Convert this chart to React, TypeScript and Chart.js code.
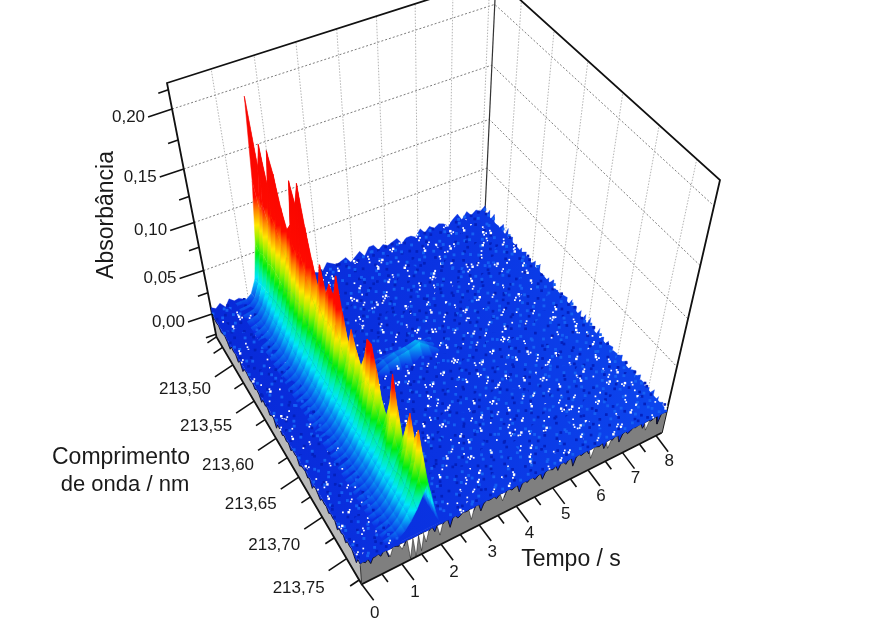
import React, { useEffect, useRef } from "react";
import { Chart, registerables } from "chart.js";

Chart.register(...registerables);

const timeTicks = [0, 1, 2, 3, 4, 5, 6, 7, 8];
const timeMinor = [0.5, 1.5, 2.5, 3.5, 4.5, 5.5, 6.5, 7.5];
const waveTicks = [213.5, 213.55, 213.6, 213.65, 213.7, 213.75];
const waveMinor = [213.46, 213.475, 213.525, 213.575, 213.625, 213.675, 213.725, 213.775];
const absTicks = [0, 0.05, 0.1, 0.15, 0.2];
const absMinor = [-0.025, 0.025, 0.075, 0.125, 0.175, 0.215];
const absLabels = ["0,00", "0,05", "0,10", "0,15", "0,20"];
const waveLabels = ["213,50", "213,55", "213,60", "213,65", "213,70", "213,75"];

const ridgeTimes = [0.65, 0.8, 0.95, 1.1, 1.25, 1.4, 1.55, 1.65, 1.75, 1.85, 1.95];
const ridgeProfileBack = [0, 0, 0, 0.03, 0.12, 0.34, 0.66, 1, 0.6, 0.22, 0];
const ridgeProfileMain = [0, 0.02, 0.05, 0.12, 0.24, 0.42, 0.7, 1, 0.6, 0.22, 0];
const ridgePeaks = [
  0.19, 0.135, 0.16, 0.13, 0.165, 0.15, 0.125, 0.11, 0.12, 0.165, 0.15, 0.173, 0.14, 0.115,
  0.095, 0.122, 0.1, 0.115, 0.11, 0.134, 0.105, 0.08, 0.1, 0.085, 0.075, 0.09, 0.114, 0.115,
  0.095, 0.07, 0.06, 0.08, 0.115, 0.085, 0.06, 0.08, 0.1, 0.08, 0.095, 0.075, 0.05,
];
const bumpTimes = [2.7, 3.0, 3.3, 3.6, 3.9, 4.15, 4.4];
const bumpRowStart = 15;
const bumpHeights = [
  [0, 0, 0, 0, 0, 0, 0],
  [0, 0.005, 0.008, 0.009, 0.012, 0.006, 0],
  [0, 0.006, 0.01, 0.012, 0.016, 0.008, 0],
  [0, 0, 0, 0, 0, 0, 0],
];
const notchTimes = [0.72, 1.02, 1.22, 1.36, 1.5, 1.62, 1.97, 2.78, 3.6, 6.02, 6.5, 7.6];
const notchDepths = [0.012, 0.01, 0.027, 0.028, 0.024, 0.016, 0.016, 0.016, 0.012, 0.014, 0.012, 0.013];

const frontEdge =
  "213162214118212315113271214216113119214312215118312214216113218213114217212316114119213215112317213118214312116213219112";
const leftEdge = "31214213612151721231412613152171241315121632141721351214121623151214712";

const noiseRows = [
  "748295630714862390571842296357048199263570441827364059182637",
  "295816634992015830749261158037426158830742961583370429615837",
  "613907782563149048256731907482856310748295563107482950631748",
  "480726155948072361593480762615934702761953480927615934802761",
  "957734062895113406289577134602895731460289573144068295713068",
  "326850741936658574193260507749326805741932660574993268057419",
  "871493725687149802568974930256871439625687043902568714393065",
  "504269918352426971835642697183504869781350426998135242697813",
  "192675384819067538401926153840192765384719276538401977653804",
  "638441972563804197956380419925638041927163804592756380411275",
  "725916443872591640387659164538725196403872599640387251764083",
  "049382715684938271967493827156949382475604338217560493861756",
  "916273598491627350149162735084916237508491623758849162375048",
  "283749161528374976152837497615283794761528379406152837940651",
  "570618934257861893425706889342570681934257068193925706819324",
  "314845297631480529763548052976314850297631485929763148542967",
  "869524751386952470138695249013869542761965954270138695427731",
  "402197863740219786354021978635402917863940291786354829178653",
  "751366824975136582497513608249751630824975163682497516398294",
  "138946957213894605721389460572138964957213896405721389640527",
  "694471382569407188256940713825694701382569470138656947013285",
  "207583916424758391642875839164207538916420753891642675389146",
  "845129637784512963478451296307845192630784519263978451926037",
  "561738949256173804925617380492561783049256178304925617830429",
  "973260481597326848159732604815973206481597320648159732964185",
  "026495713802649571380264957138626459713802645971380264597318",
  "389517268438951726943895172604389571260438957126043895712064",
  "714862895371406289537140628953714026895371402689837140268935",
  "652837174965283017496528301749652380174965238017496523801794",
  "190374685219737468521903746852190734685219073468521907346582",
  "437951296843795120684379512068437591206843759120684375912086",
  "806249137580624913758462491375806429137580642913758064291375",
  "528716936452871693045287169304528761930452876193045287619034",
  "261083475926108347592910834759261803475926180347592618034795",
  "943527718694352701869435270186943257018694325701869432570186",
  "075861349287586134920758613492075681349207568134920756813492",
  "682194657368219405736821940573682914057368291405736829140573",
  "319470825631947682563194708256319740825631974082563197408256",
  "756938291475603829147560382914756308291475630829147563082914",
  "104825976310482597631048259763104285976310428597631042859763",
  "597362184059736218405973621840597632184059763218405976321840",
];

const TMAX = 8.17;
const WMIN = 213.46;
const WSPAN = 0.32;
const ATOP = 0.22;
const AFLOOR = -0.0285;

type P = { x: number; y: number };
const zeroCorners = { L: [212, 314], F: [360, 562], R: [667, 410], B: [485, 212] };
const topCorners = { L: [167, 83], F: [343, 337], R: [720, 180], B: [496, -22] };

const sT = (t: number) => t / (1 + 0.0135 * t);
const sW = (d: number) => d / (1 - 0.33 * d);
const sA = (a: number) => (830 * a) / (1 - 0.97 * a);
const uOf = (t: number) => sT(t) / sT(TMAX);
const vOf = (wl: number) => sW(wl - WMIN) / sW(WSPAN);
const wOf = (a: number) => sA(a) / sA(ATOP);

function bil(c: { L: number[]; F: number[]; R: number[]; B: number[] }, u: number, v: number, i: number) {
  const back = c.L[i] + (c.B[i] - c.L[i]) * u;
  const front = c.F[i] + (c.R[i] - c.F[i]) * u;
  return back + (front - back) * v;
}
function uvw(u: number, v: number, w: number): P {
  const x0 = bil(zeroCorners, u, v, 0);
  const y0 = bil(zeroCorners, u, v, 1);
  const x1 = bil(topCorners, u, v, 0);
  const y1 = bil(topCorners, u, v, 1);
  return { x: x0 + (x1 - x0) * w, y: y0 + (y1 - y0) * w };
}
const proj = (t: number, wl: number, a: number) => uvw(uOf(t), vOf(wl), wOf(a));
const puv = (u: number, v: number, a: number) => uvw(u, v, wOf(a));
const shift = (p: P, dx: number, dy: number): P => ({ x: p.x + dx, y: p.y + dy });

const gradCanvas = document.createElement("canvas").getContext("2d") as CanvasRenderingContext2D;
const colourStops: [number, string][] = [
  [0, "#0a30e6"],
  [10, "#0a78f0"],
  [22, "#00e6fa"],
  [33, "#00f0a0"],
  [45, "#00ee10"],
  [60, "#a0f000"],
  [72, "#ffe800"],
  [86, "#ff8800"],
  [100, "#ff0a00"],
  [232, "#f00000"],
];
function heightGradient(u: number, v: number) {
  const a = uvw(u, v, 0);
  const b = uvw(u, v, 1);
  const g = gradCanvas.createLinearGradient(a.x, a.y, b.x, b.y);
  colourStops.forEach(([s, c]) => g.addColorStop(s / 232, c));
  return g;
}
const meshFill = gradCanvas.createLinearGradient(212, 0, 667, 0);
meshFill.addColorStop(0, "#0829d8");
meshFill.addColorStop(0.5, "#0a33e2");
meshFill.addColorStop(1, "#0c46ee");

const poly = (data: P[], fillColor: any, stroke?: any, width = 0) => ({
  type: "line",
  data,
  fill: "shape",
  backgroundColor: fillColor,
  borderColor: stroke || fillColor,
  borderWidth: width,
  pointRadius: 0,
  tension: 0,
  clip: false,
});
const path = (data: P[], color: string, width: number, dash: number[] = []) => ({
  type: "line",
  data,
  fill: false,
  borderColor: color,
  borderWidth: width,
  borderDash: dash,
  pointRadius: 0,
  tension: 0,
  clip: false,
});
const dots = (data: P[], color: string, radius: number) => ({
  type: "line",
  data,
  showLine: false,
  fill: false,
  pointStyle: "rect",
  pointRadius: radius,
  pointBackgroundColor: color,
  pointBorderWidth: 0,
  clip: false,
});

function buildDatasets() {
  const ds: any[] = [];
  const wlMax = WMIN + WSPAN;

  [0.05, 0.1, 0.15, 0.2].forEach((a) => {
    ds.push(path([proj(0, WMIN, a), proj(TMAX, WMIN, a), proj(TMAX, wlMax, a)], "#6e6e6e", 0.9, [2, 2]));
  });
  timeTicks.slice(1).forEach((t) => {
    ds.push(path([proj(t, WMIN, 0), proj(t, WMIN, ATOP)], "#ababab", 0.9, [1.5, 1.5]));
  });
  waveTicks.forEach((w) => {
    ds.push(path([proj(TMAX, w, 0), proj(TMAX, w, ATOP)], "#ababab", 0.9, [1.5, 1.5]));
  });

  ds.push(path([proj(TMAX, WMIN, 0), proj(TMAX, WMIN, ATOP)], "#333333", 1.2));
  ds.push(
    path([proj(0, WMIN, 0), proj(0, WMIN, ATOP), proj(TMAX, WMIN, ATOP), proj(TMAX, wlMax, ATOP), proj(TMAX, wlMax, AFLOOR)], "#111111", 1.8)
  );

  ds.push(poly([proj(0, WMIN, 0), proj(0, wlMax, 0), proj(0, wlMax, AFLOOR), proj(0, WMIN, AFLOOR)], "#b9b9b9"));
  ds.push(poly([proj(0, wlMax, 0), proj(TMAX, wlMax, 0), proj(TMAX, wlMax, AFLOOR), proj(0, wlMax, AFLOOR)], "#7f7f7f"));

  const rows = noiseRows.length;
  const cols = noiseRows[0].length;
  const digit = (r: number, c: number) => {
    const row = noiseRows[r % rows];
    return Number(row[c % row.length]);
  };

  const frontJag: P[] = [];
  for (let c = 0; c < frontEdge.length; c++) frontJag.push(puv(c / (frontEdge.length - 1), 1, -Number(frontEdge[c]) * 0.0014));
  const leftJag: P[] = [];
  for (let r = 0; r < leftEdge.length; r++) leftJag.push(puv(0, r / (leftEdge.length - 1), -Number(leftEdge[r]) * 0.0014));
  ds.push(poly([...frontJag, puv(1, 1, 0), puv(0, 1, 0)], "#0a30dc"));
  ds.push(poly([...leftJag, puv(0, 1, 0), puv(0, 0, 0)], "#0a30dc"));
  ds.push(path(frontJag, "#0c0c20", 0.9));
  ds.push(path(leftJag, "#0c0c30", 0.9));

  notchTimes.forEach((t, i) => {
    ds.push(poly([proj(t - 0.07, wlMax, -0.003), proj(t, wlMax, -notchDepths[i]), proj(t + 0.07, wlMax, -0.003)], "#ffffff", "#111111", 0.5));
  });

  ds.push(poly([puv(0, 0, 0), puv(1, 0, 0), puv(1, 1, 0), puv(0, 1, 0)], meshFill));

  const ridgeU = ridgeTimes.map(uOf);
  const bumpU = bumpTimes.map(uOf);
  const smoothPeak = (r: number) => {
    let sum = 0;
    let n = 0;
    for (let k = Math.max(0, r - 3); k <= Math.min(ridgePeaks.length - 1, r + 3); k++) {
      sum += ridgePeaks[k];
      n++;
    }
    return sum / n;
  };

  for (let r = 0; r < rows; r++) {
    const v = r / (rows - 1);
    const flatFrom = ridgeU[r < 6 ? 3 : 2];
    const flatTo = ridgeU[ridgeU.length - 1];
    const top: P[] = [];
    for (let c = 0; c < cols; c++) {
      const u = c / (cols - 1);
      const h = u > flatFrom && u < flatTo ? 0 : digit(r, c) * 0.0011;
      top.push(puv(u, v, h));
    }
    const lower = 0.002;
    ds.push(poly([...top, puv(1, v, -lower), puv(0, v, -lower)], meshFill, meshFill, 0.3));

    const white: P[] = [];
    const whiteBig: P[] = [];
    const bright: P[] = [];
    const dark: P[] = [];
    for (let c = 0; c < cols; c++) {
      const d = digit(r, c);
      const n1 = digit(r + 7, c + 3);
      const n2 = digit(r + 13, c + 11);
      const u = (c + (n1 - 4.5) / 9) / (cols - 1);
      const vv = Math.min(1, (r + (n2 - 4.5) / 9) / (rows - 1));
      const p = puv(Math.min(1, Math.max(0, u)), Math.max(0, vv), 0.003);
      if (d === 0) {
        whiteBig.push(p);
        white.push(shift(p, n2 > 4 ? 1 : -1, n1 > 4 ? 2.6 : -2.4));
        if (n1 > 3) white.push(shift(p, n2 > 4 ? 3 : -3, n1 > 6 ? 1 : 3));
      } else if (d === 1) {
        white.push(p);
        if (n1 > 4) white.push(shift(p, n2 > 4 ? 1 : -1, 2.4));
      } else if (d === 4 && n1 < 3) {
        white.push(p);
      } else if (d === 2 || d === 3 || d === 5) {
        dark.push(p);
      } else if (d >= 7) {
        bright.push(p);
      }
    }
    const inRidge = (p: P) => {
      const uStart = r < 6 ? uOf(1.15) : ridgeU[2];
      const xBase = bil(zeroCorners, uStart, v, 0);
      const xEnd = bil(zeroCorners, ridgeU[ridgeU.length - 1], v, 0);
      return p.x > xBase - 2 && p.x < xEnd + 4;
    };
    ds.push(dots(dark.filter((p) => !inRidge(p)), "#0420bc", 1.9));
    ds.push(dots(bright.filter((p) => !inRidge(p)), "#1560f4", 2));
    ds.push(dots(white.filter((p) => !inRidge(p)), "#ffffff", 1.2));
    ds.push(dots(whiteBig.filter((p) => !inRidge(p)), "#ffffff", 1.7));

    if (r < rows - 1) {
      const v2 = (r + 1) / (rows - 1);
      const br = bumpRowStart;
      if (r >= br && r < br + bumpHeights.length - 1) {
        for (let j = bumpU.length - 2; j >= 0; j--) {
          const h = bumpHeights[r - br];
          const h2 = bumpHeights[r - br + 1];
          ds.push(
            poly(
              [puv(bumpU[j], v, h[j] + 0.002), puv(bumpU[j + 1], v, h[j + 1] + 0.002), puv(bumpU[j + 1], v2, h2[j + 1] + 0.002), puv(bumpU[j], v2, h2[j] + 0.002)],
              heightGradient((bumpU[j] + bumpU[j + 1]) / 2, (v + v2) / 2),
              undefined,
              0.5
            )
          );
        }
      }
      const shape = (row: number, j: number) => {
        const k = Math.min(1, row / 6);
        return ridgeProfileBack[j] + (ridgeProfileMain[j] - ridgeProfileBack[j]) * k;
      };
      const height = (row: number, j: number) => {
        const s = shape(row, j);
        const m = smoothPeak(row);
        return s * (m + (ridgePeaks[row] - m) * s) + 0.002;
      };
      for (let j = ridgeU.length - 2; j >= 0; j--) {
        const a1 = height(r, j);
        const a2 = height(r, j + 1);
        const a3 = height(r + 1, j + 1);
        const a4 = height(r + 1, j);
        if (Math.max(a1, a2, a3, a4) <= 0.0021) continue;
        ds.push(
          poly(
            [puv(ridgeU[j], v, a1), puv(ridgeU[j + 1], v, a2), puv(ridgeU[j + 1], v2, a3), puv(ridgeU[j], v2, a4)],
            heightGradient((ridgeU[j] + ridgeU[j + 1]) / 2, (v + v2) / 2),
            undefined,
            0.5
          )
        );
      }
    }
  }

  ds.push(path([proj(0, WMIN, 0), proj(0, WMIN, AFLOOR), proj(0, wlMax, AFLOOR), proj(TMAX, wlMax, AFLOOR)], "#111111", 1.8));
  ds.push(path([proj(0, wlMax, -0.004), proj(0, wlMax, AFLOOR)], "#333333", 1));

  const tick = (p: P, dx: number, dy: number, w = 1.6) => ds.push(path([p, shift(p, dx, dy)], "#111111", w));
  timeTicks.forEach((t) => tick(proj(t, wlMax, AFLOOR), 12, 16));
  timeMinor.forEach((t) => tick(proj(t, wlMax, AFLOOR), 6, 8));
  waveTicks.forEach((w) => tick(proj(0, w, AFLOOR), -18, 12));
  waveMinor.forEach((w) => tick(proj(0, w, AFLOOR), -9, 6));
  absTicks.forEach((a) => tick(proj(0, WMIN, a), -24, 8));
  absMinor.forEach((a) => tick(proj(0, WMIN, a), -10, 3.5));

  return ds.reverse();
}

const textPlugin = {
  id: "labels3d",
  afterDraw(chart: any) {
    const ctx: CanvasRenderingContext2D = chart.ctx;
    const wlMax = WMIN + WSPAN;
    ctx.save();
    ctx.fillStyle = "#1a1a1a";
    ctx.textBaseline = "middle";
    ctx.font = '17px "Liberation Sans"';
    ctx.textAlign = "right";
    absTicks.forEach((a, i) => {
      const p = proj(0, WMIN, a);
      ctx.fillText(absLabels[i], p.x - 27, p.y + 8);
    });
    waveTicks.forEach((w, i) => {
      const p = proj(0, w, AFLOOR);
      ctx.fillText(waveLabels[i], p.x - 22, p.y + 24 + vOf(w) * 6);
    });
    ctx.textAlign = "center";
    timeTicks.forEach((t) => {
      const p = proj(t, wlMax, AFLOOR);
      ctx.fillText(String(t), p.x + 13, p.y + 29 - 3.5 * uOf(t));
    });
    ctx.font = '23px "Liberation Sans"';
    ctx.fillText("Comprimento", 121, 458);
    ctx.fillText("Tempo / s", 571, 560);
    ctx.font = '22px "Liberation Sans"';
    ctx.fillText("de onda / nm", 125, 485);
    ctx.font = '23px "Liberation Sans"';
    ctx.translate(107, 215);
    ctx.rotate(-Math.PI / 2);
    ctx.fillText("Absorbância", 0, 0);
    ctx.restore();
  },
};

export default function App() {
  const ref = useRef<HTMLCanvasElement>(null);
  useEffect(() => {
    const chart = new Chart(ref.current as HTMLCanvasElement, {
      type: "line",
      data: { datasets: buildDatasets() },
      plugins: [textPlugin],
      options: {
        responsive: false,
        animation: false,
        devicePixelRatio: 1,
        events: [],
        layout: { padding: 0, autoPadding: false },
        plugins: { legend: { display: false }, tooltip: { enabled: false } },
        scales: {
          x: { type: "linear", min: 0, max: 877, display: false },
          y: { type: "linear", min: 0, max: 622, reverse: true, display: false },
        },
      },
    } as any);
    return () => chart.destroy();
  }, []);
  return (
    <div style={{ position: "fixed", left: 0, top: 0, width: 877, height: 622, background: "#fff" }}>
      <canvas ref={ref} width={877} height={622} style={{ display: "block" }} />
    </div>
  );
}
